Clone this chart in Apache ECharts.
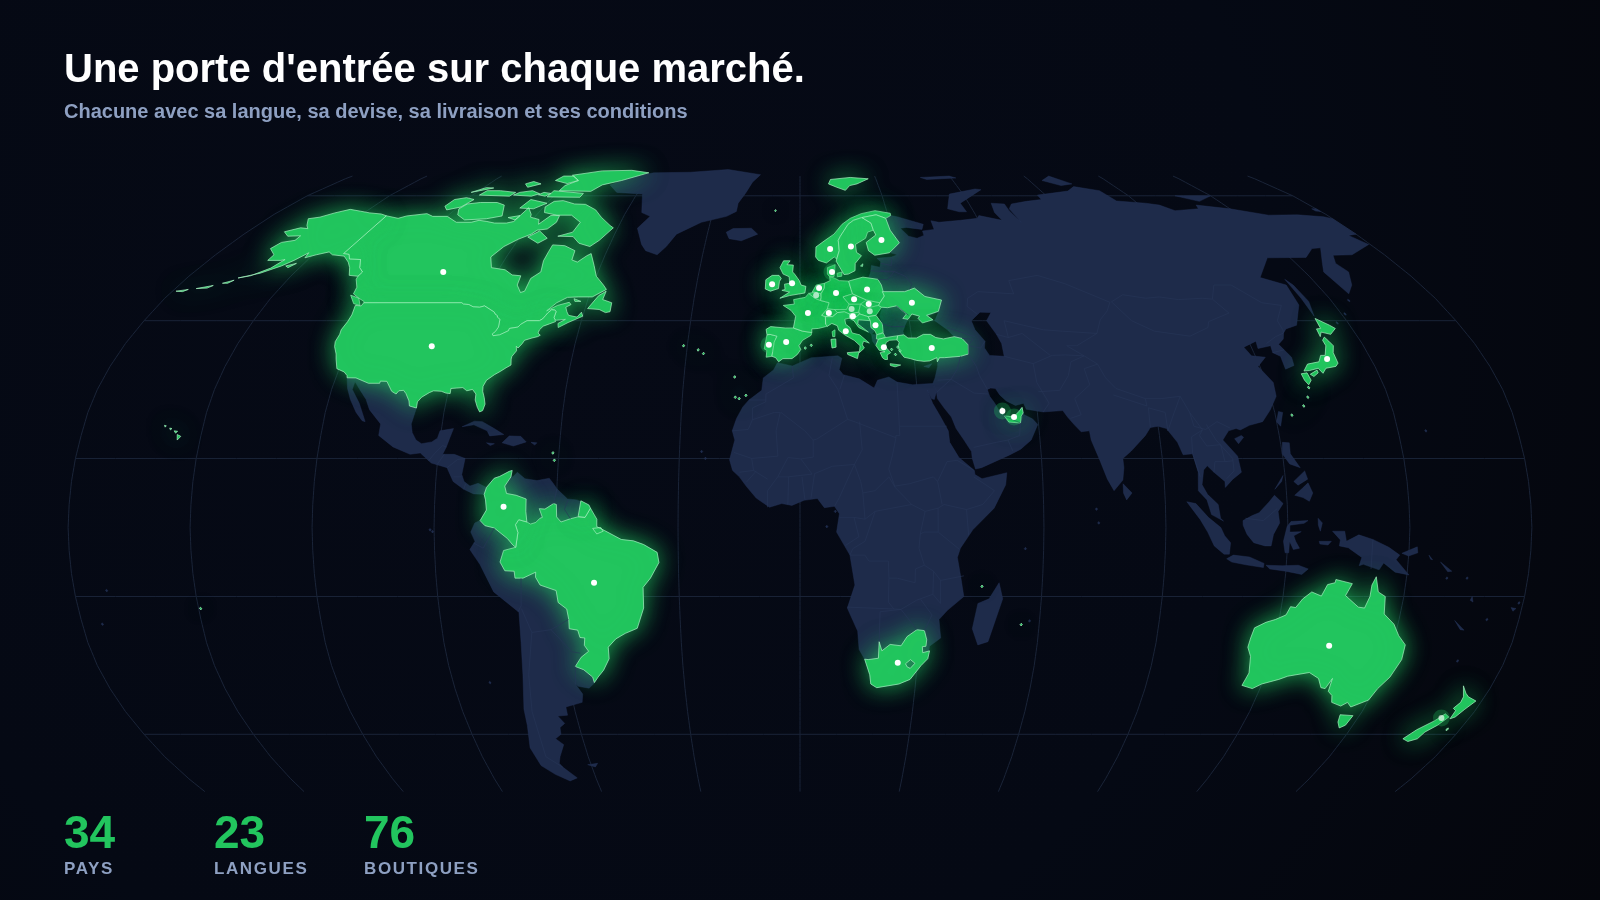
<!DOCTYPE html>
<html>
<head>
<meta charset="utf-8">
<title>Une porte d'entrée sur chaque marché</title>
<style>
  html, body { margin: 0; padding: 0; background: #060a16; }
  #chart-container { width: 1600px; height: 900px; }
</style>
<script src="https://cdn.jsdelivr.net/npm/echarts@6/dist/echarts.min.js"></script>
</head>
<body>
<div id="chart-container"></div>
<script>
// stats under the map
const statValues = ["34", "23", "76"];
const statLabels = ["PAYS", "LANGUES", "BOUTIQUES"];

// markets: name, lon, lat
const markets = [
  ["Canada", -106, 56], ["États-Unis", -98, 39.4], ["Colombie", -73, 4.5], ["Brésil", -51, -12],
  ["Afrique du Sud", 25, -29.4], ["Qatar", 51.2, 25.3], ["Émirats", 54, 24], ["Japon", 138.5, 36.6],
  ["Australie", 134, -25.7], ["Nouvelle-Zélande", 172.5, -41.4], ["Norvège", 9.4, 61.4], ["Suède", 16, 62],
  ["Finlande", 26, 63.6], ["Danemark", 9.5, 56], ["Irlande", -8.1, 53.2], ["Royaume-Uni", -2.3, 53.4],
  ["Pays-Bas", 5.5, 52.3], ["Belgique", 4.6, 50.7], ["Allemagne", 10.3, 51.2], ["Pologne", 19.3, 52],
  ["Tchéquie", 15.3, 49.8], ["France", 2.2, 46.7], ["Suisse", 8, 46.7], ["Autriche", 14.4, 47.6],
  ["Slovaquie", 19.3, 48.7], ["Hongrie", 19.4, 47.1], ["Slovénie", 14.6, 46], ["Italie", 12.4, 42.7],
  ["Serbie", 20.6, 44], ["Grèce", 22.3, 39.2], ["Turquie", 35, 39], ["Ukraine", 31.5, 49],
  ["Portugal", -8.3, 39.7], ["Espagne", -3.7, 40.3]
];
const dimMarkets = ["Belgique", "Autriche", "Hongrie", "Nouvelle-Zélande"];
const haloMarkets = ["Qatar", "Émirats", "Nouvelle-Zélande", "Portugal", "Danemark"];

// outlines, [lon, lat]
const usa = [[-124.7,48.4],[-123,48.3],[-122.8,49],[-95.2,49],[-94.6,48.7],[-93,48.6],[-91.5,48.1],[-89.6,48],[-88.4,48.3],[-84.9,46.9],[-84.5,46.5],[-83.6,46.1],[-83.5,45.8],[-82.5,45.3],[-82.1,43.6],[-82.5,42.6],[-83.1,42.1],[-82.7,41.7],[-81,41.9],[-79,42.8],[-79,43.3],[-76.8,43.6],[-76.3,44.2],[-74.9,45],[-71.5,45],[-70.8,45.4],[-70.3,46.2],[-70,46.7],[-69.2,47.45],[-68.3,47.35],[-67.8,47.07],[-67.8,45.7],[-67.4,45.3],[-67,44.8],[-68.5,44.3],[-70,43.8],[-70.7,43],[-70.8,42.3],[-70,41.8],[-70.6,41.5],[-72,41.2],[-73.8,40.7],[-74.1,40],[-74.9,39],[-75.5,39.4],[-75.1,38.4],[-75.9,37.2],[-75.9,36.6],[-75.5,35.3],[-76.6,34.7],[-77.9,33.9],[-79.2,33.2],[-80.9,32],[-81.4,30.7],[-81.2,29.6],[-80.5,28.2],[-80,26.8],[-80.3,25.4],[-81,25.1],[-81.8,26.1],[-82.7,27.7],[-82.8,29],[-83.9,30],[-85.3,29.7],[-86.5,30.4],[-88,30.3],[-89.5,30.2],[-89.4,29.1],[-90.5,29.2],[-91.8,29.6],[-93.8,29.7],[-94.8,29.3],[-96.5,28.3],[-97.3,27.3],[-97.2,25.96],[-99.1,26.4],[-99.5,27.5],[-100.7,29.1],[-101.5,29.8],[-102.7,29.7],[-103.2,29],[-104.5,29.6],[-106.5,31.75],[-108.2,31.8],[-108.2,31.33],[-111.07,31.33],[-114.8,32.5],[-117.1,32.53],[-117.3,33],[-118.4,33.8],[-120.6,34.5],[-121.9,36.6],[-122.5,37.7],[-123.8,39.3],[-124.3,40.4],[-124.2,42],[-124.5,43],[-124,44.8],[-124,46.3]];
const alaska = [[-141,69.65],[-143.5,70.1],[-148,70.4],[-152,70.85],[-156.6,71.35],[-160,70.4],[-163,69.3],[-166.2,68.9],[-163.5,67.2],[-161.8,66.4],[-164.5,66.6],[-168,65.6],[-165,64.5],[-161,64.6],[-161,63.5],[-164.5,63],[-165.5,61.5],[-162,60],[-162,58.7],[-158,58.7],[-157,58.9],[-158.5,56.9],[-162,55.1],[-165,54.6],[-160,55.7],[-156,57.4],[-154,58.7],[-152,60.5],[-151.5,59.3],[-149,60],[-146,60.7],[-144,60],[-140,59.7],[-137,58.3],[-135,57],[-133,55.2],[-130.2,55],[-130,56],[-132,57],[-134,58.9],[-137.5,59],[-139,60.1],[-141,60.3]];
const aleutians = [[[-168,53.4],[-165.5,54.1],[-166.5,53.4]],[[-174,52.2],[-170,52.9],[-171,52.3]],[[-179,51.6],[-176,52],[-177,51.5]],[[-154.7,57.4],[-152.3,58],[-153.5,57]]];
const hawaii = [[[-156,20.2],[-155,19.8],[-155.7,19]],[[-157,21],[-156.1,20.9],[-156.5,20.5]],[[-158.3,21.6],[-157.7,21.5],[-158,21.2]],[[-159.8,22.2],[-159.3,22.1],[-159.5,21.8]]];
const canada = [[-141,69.65],[-136,69],[-134,69.6],[-128,70.2],[-125,69.5],[-120,69.5],[-115,68],[-110,68],[-108,68.5],[-105,68.2],[-102,67.8],[-98,67.8],[-96,68.2],[-95,71.8],[-92,70],[-91.5,69.3],[-88,68.7],[-87,67.5],[-85,69.7],[-82,69.7],[-81.5,68],[-83,66.3],[-86,66],[-87,65],[-90,63.8],[-93,62],[-94.8,59.5],[-92.5,57],[-88,56.5],[-85,55.3],[-82.3,55.1],[-82,53],[-80,51.3],[-79,51.6],[-79,54.5],[-77,56],[-78,58.6],[-78,60.8],[-78,62.4],[-74,62.2],[-70,61],[-69.5,58.8],[-67.5,58.3],[-65.5,59.8],[-64.5,60.3],[-62,57.5],[-60,55],[-57,53],[-55.7,52],[-59,50.3],[-63,50.3],[-66,50.2],[-68.5,49],[-70.5,47.2],[-68,48.4],[-65,49.1],[-64.3,48.6],[-65.5,48],[-64.8,47],[-64,46.2],[-61.5,45.8],[-60.7,46.9],[-60,46],[-63.5,44.6],[-65.8,43.5],[-66.2,44.4],[-64.5,45.3],[-67,45.1],[-67.4,45.3],[-67.8,45.7],[-67.8,47.07],[-68.3,47.35],[-69.2,47.45],[-70,46.7],[-70.3,46.2],[-70.8,45.4],[-71.5,45],[-74.9,45],[-76.3,44.2],[-76.8,43.6],[-79,43.3],[-79,42.8],[-81,41.9],[-82.7,41.7],[-83.1,42.1],[-82.5,42.6],[-82.1,43.6],[-82.5,45.3],[-83.5,45.8],[-83.6,46.1],[-84.5,46.5],[-84.9,46.9],[-88.4,48.3],[-89.6,48],[-91.5,48.1],[-93,48.6],[-94.6,48.7],[-95.2,49],[-122.8,49],[-123,49.3],[-125,50],[-127.5,51],[-128,52.5],[-130,54.3],[-130.2,55],[-130,56],[-132,57],[-134,58.9],[-137.5,59],[-139,60.1],[-141,60.3]];
const canadaIslands = [
  [[-128,50.7],[-125,50],[-123.4,48.4],[-125.5,48.8]],
  [[-59.3,47.7],[-57.3,50.6],[-55.6,51.6],[-55.8,49.7],[-53,49],[-52.8,47],[-54,46.8],[-56,47.5]],
  [[-61.5,66.6],[-64,63.5],[-66,62],[-70,62.8],[-73,64.4],[-78,64.5],[-74,65.5],[-73.5,68],[-78,69.8],[-83,69.8],[-88,70.5],[-89.5,72],[-88,73.5],[-85,73.7],[-80,72.8],[-76,72.7],[-71,71.2],[-67.5,69.3],[-63,67.2]],
  [[-117,69.9],[-113,68.6],[-106,68.9],[-101.5,69.6],[-104.5,72.5],[-108,73.2],[-114,73.2],[-118,72.8],[-119,71.5]],
  [[-125,72.2],[-122.8,71.2],[-119,72],[-117.5,74],[-121,74.5],[-124.5,74]],
  [[-90,76.5],[-78,76.3],[-76,78.2],[-70,79.5],[-62,82.2],[-70,83.1],[-82,82.9],[-92,81.3],[-87,79.5],[-90,78]],
  [[-92,74.7],[-80,74.6],[-80,75.7],[-92,76.5]],
  [[-96,79.5],[-90,78.6],[-87,79.5],[-91,81],[-95,81]],
  [[-117.5,75.2],[-106,74.9],[-105.5,76],[-112,76.5],[-117,76.5]],
  [[-105,75.2],[-98,74.9],[-96,75.6],[-100,76.5],[-104,76]],
  [[-97,74],[-90,73],[-93,71.5],[-98,71.7]],
  [[-96,75.3],[-93,74.9],[-92,75.7],[-95,76]],
  [[-87.5,64.3],[-85,65.8],[-81,64],[-83,62.8]],
  [[-122,76],[-116,77.3],[-119,77.4]],
  [[-103.5,77.5],[-100,78.5],[-104,79.2],[-106,78.5]],
  [[-99,69.2],[-95.5,69.7],[-96,68.6]],
  [[-64,49.9],[-61.8,49.3],[-63.5,49.3]]
];
const greenland = [[-73,78.2],[-68,76],[-58,75.5],[-54.5,70.5],[-51,69.5],[-53.5,66.5],[-50,62.5],[-48,61],[-44,60],[-42,62],[-40,65],[-33,68],[-25,69.5],[-22,70.8],[-22,73],[-20,76],[-18.5,79],[-16,81.5],[-30,83.4],[-45,82.4],[-60,82.2],[-68,80.5]];
const centralAmerica = [[-117.1,32.53],[-114.8,32.5],[-111.07,31.33],[-108.2,31.33],[-108.2,31.8],[-106.5,31.75],[-104.5,29.6],[-103.2,29],[-102.7,29.7],[-101.5,29.8],[-100.7,29.1],[-99.5,27.5],[-99.1,26.4],[-97.2,25.96],[-97.8,22.5],[-97.2,20.6],[-96,19],[-94.5,18.2],[-92,18.6],[-90.7,19.4],[-90.3,21],[-87,21.5],[-87.6,19.5],[-88.2,17.5],[-88.9,15.9],[-86,15.9],[-83.2,15],[-83.7,11.5],[-83,10],[-81.5,9],[-79.5,9.6],[-77.4,8.7],[-77.9,7.2],[-80.5,7.3],[-83,8.3],[-85.7,10],[-87.5,13],[-91.5,14],[-94.5,16.2],[-97,15.9],[-101.5,17.5],[-105.5,20],[-105.5,22.5],[-109,25.6],[-110.5,27.8],[-112.8,30],[-114.7,31.7],[-114.7,30],[-112,27],[-109.5,23],[-110.3,23.2],[-112.2,25],[-114.5,27.8],[-116,30.2]];
const caribbean = [
  [[-84.9,21.9],[-82,23.1],[-80,23],[-77,21.6],[-74.2,20.2],[-77.7,19.9],[-78.5,21],[-82,22.3]],
  [[-74.4,18.4],[-72.8,19.9],[-69.9,19.8],[-68.4,18.6],[-71.5,17.7]],
  [[-78.3,18.4],[-76.3,18.2],[-77.3,17.8]],
  [[-67.2,18.5],[-65.7,18.4],[-66.2,17.9]]
];
const southAmerica = [[-77.9,7.2],[-77.4,8.7],[-75.6,10.7],[-74.3,11.1],[-72,12.2],[-71.3,12.4],[-71.5,11],[-71,11],[-70,12],[-68,10.6],[-65,10.2],[-62,10.7],[-60.8,9.4],[-60,8.4],[-57.3,6.2],[-55,6],[-52,4.9],[-51.6,4.2],[-50,1.8],[-50,0.2],[-48,-0.7],[-44,-2.6],[-41,-2.9],[-38.5,-3.7],[-35.2,-5.4],[-34.8,-7.6],[-37,-11],[-38.9,-13],[-39,-17.5],[-40.9,-21.9],[-44,-23],[-46.5,-24.2],[-48.6,-26],[-48.7,-28.5],[-50.5,-31],[-52.2,-32.5],[-53.4,-33.8],[-55,-34.9],[-57.8,-34.5],[-58.4,-34],[-57,-36.2],[-57.6,-38],[-62.2,-39],[-62.3,-40.8],[-65,-41],[-63.7,-42.6],[-65.3,-43.5],[-65.6,-45],[-67.5,-46],[-65.8,-47.3],[-68,-50],[-69,-51.5],[-68.4,-52.4],[-65.5,-54.8],[-68,-55.5],[-71.5,-54],[-74.5,-52],[-75.5,-48],[-74,-43],[-73.5,-39.5],[-71.5,-32],[-70.5,-25],[-70.2,-18.4],[-76,-14],[-79,-8],[-81.3,-4.8],[-80,-3],[-81,-1],[-80,1],[-78.7,1.5],[-77.2,3.8],[-77.5,6]];
const brazil = [[-51.6,4.2],[-50,1.8],[-50,0.2],[-48,-0.7],[-44,-2.6],[-41,-2.9],[-38.5,-3.7],[-35.2,-5.4],[-34.8,-7.6],[-37,-11],[-38.9,-13],[-39,-17.5],[-40.9,-21.9],[-44,-23],[-46.5,-24.2],[-48.6,-26],[-48.7,-28.5],[-50.5,-31],[-52.2,-32.5],[-53.4,-33.7],[-53.6,-32.5],[-55.6,-30.9],[-57.6,-30.2],[-55.8,-28.2],[-53.7,-26.9],[-54.6,-25.6],[-54.3,-24],[-55.5,-23.9],[-55.9,-22.3],[-58,-22],[-57.9,-20],[-58.2,-17.7],[-60.2,-16.3],[-60.5,-13.7],[-64.4,-12.5],[-65.4,-10.8],[-65.3,-9.7],[-68.5,-11],[-70.5,-11],[-70.6,-9.5],[-72.9,-9.4],[-74,-7.5],[-73,-5],[-70,-4.3],[-69.4,-1.1],[-70,0.6],[-69.2,1.7],[-67.2,1.2],[-66.3,0.75],[-65,1.1],[-64,2],[-63.4,2.2],[-64.2,4.1],[-62.8,4],[-60.7,5.2],[-60,5],[-59.9,2.3],[-58.8,1.2],[-56.5,1.9],[-54.7,2.3],[-52.9,2.2]];
const marajo = [[-51,-0.2],[-49,0],[-48.4,-0.8],[-50,-1.4]];
const colombia = [[-77.9,7.2],[-77.4,8.7],[-75.6,10.7],[-74.3,11.1],[-72,12.2],[-71.3,12.4],[-71.5,11],[-72.9,9],[-72.4,7.4],[-70,7],[-67.5,6.2],[-67.5,3.5],[-67.2,1.2],[-69.2,1.7],[-70,0.6],[-69.4,-1.1],[-70,-4.3],[-70.7,-3.8],[-72,-2.4],[-75.2,-0.1],[-77.5,0.4],[-78.7,1.5],[-77.2,3.8],[-77.5,6]];
const frenchGuiana = [[-54.6,2.4],[-54,5.8],[-52,4.9],[-51.6,4.2],[-52.9,2.2]];
const falklands = [[-61,-51.8],[-58,-51.5],[-59,-52.3]];
const africa = [[-5.9,35.8],[-2,35.1],[3,36.9],[10,37.3],[11,36.8],[10.2,34.3],[11.2,33.2],[15.3,32.3],[19,30.3],[20,32],[23,32.7],[25,31.6],[29,31],[32,31.2],[34.2,31.3],[34.9,29.5],[34.2,27.8],[33.5,28],[32.6,29.9],[33.7,27],[35.5,24],[37.2,21],[37.4,18.5],[39.5,15.2],[43.2,12.4],[43.3,11.5],[45,10.6],[51.2,11.9],[50.8,9.3],[47.8,4.2],[42.5,-0.5],[39.5,-4.5],[38.8,-6.5],[39.7,-10.5],[40.7,-15],[36.8,-18],[34.8,-20],[35.5,-24],[32.8,-25.8],[32.6,-28.5],[31,-30],[28.5,-33],[25.7,-34],[20,-34.8],[18.4,-34],[18,-32],[16.5,-28.6],[15,-26.5],[14.5,-22.5],[11.8,-17.5],[13.6,-12.5],[12.3,-6],[9,-1],[9.7,3],[8.5,4.6],[6,4.3],[4.3,6.3],[1,5.9],[-2,4.8],[-4.5,5.2],[-7.5,4.4],[-10.8,6.4],[-13.3,9],[-15,11],[-16.7,12.4],[-17.5,14.7],[-16.3,19],[-17,21],[-16,23.7],[-14.5,26.2],[-13,27.7],[-9.8,29.8],[-9.5,32.5],[-6.9,34.2]];
const madagascar = [[49.3,-12],[50.4,-15.5],[47.5,-24.8],[45,-25.5],[43.3,-22],[44.3,-16.5],[47,-15.5]];
const southAfrica = [[16.5,-28.6],[17.4,-28.7],[20,-28.4],[20,-24.8],[20.8,-26.8],[22.8,-25.4],[25.6,-25.7],[27,-23.7],[29.4,-22.2],[31.3,-22.4],[32,-24.4],[31.9,-25.8],[31,-25.9],[31.2,-27.2],[32.9,-26.8],[32.6,-28.5],[31,-30],[28.5,-33],[25.7,-34],[20,-34.8],[18.4,-34],[18,-32]];
const lesotho = [[27,-29.6],[28.2,-28.7],[29.4,-29.5],[28.3,-30.6],[27.5,-30.3]];
const eurasia = [[30.9,69.7],[33,69.4],[41,67.5],[40,66.2],[35,66.7],[33,66.5],[35,64.5],[37.5,64],[40,64.7],[40,65.8],[44,66.2],[44,68.4],[46.5,68],[54,68.5],[60,69],[61,69.7],[68,68.5],[67,70.5],[68,73],[72.5,72.8],[72.5,71],[74,68],[73,71.5],[75,72.8],[81,73.5],[87,74],[87,75.2],[100,76.4],[104.3,77.7],[112,76.5],[113.5,73.6],[123,73],[127,72.5],[130,71],[139,71.5],[140,72.5],[150,71.5],[160,69.8],[170,69.9],[178,69.4],[180,68.9],[180,65],[177,64.7],[179.5,62.5],[170,60],[164,59.9],[162,58],[163,56],[160,53],[156.7,51],[155.6,56],[158,58],[163,61.7],[160,61.5],[155,59.4],[143,59.3],[135.2,54.7],[141,53],[140,48.5],[135.5,44],[132,43.2],[130.7,42.3],[129.7,41],[127.6,39.8],[129.4,37],[129,35.2],[126.4,34.4],[126.6,37.2],[125,38],[125.3,39.5],[121.6,38.9],[122,40.5],[118,39.2],[119,37.3],[122.5,37],[119.5,35],[121.9,31.5],[121.5,28.5],[119,25.5],[116.5,23],[113,22.2],[110.5,21.2],[109.5,21.5],[107.5,21],[105.7,19],[108.8,15.5],[109.3,12],[107,10.5],[105,8.7],[105,10],[102.5,12],[101,13.4],[100,12.5],[99.3,9.3],[100.5,7.2],[103,5],[103.5,2],[104.2,1.4],[101.3,2.8],[100.3,6],[98.3,8],[98.6,12],[97.7,16],[95.3,15.8],[94.3,18.5],[92,21.5],[90,22],[88,21.7],[86.5,20],[82.5,16.6],[80.2,15],[80.3,13],[79.8,10.3],[77.5,8],[76,10.5],[74.5,14.5],[72.8,19],[72.6,21],[70.5,20.8],[69,22.3],[67.5,24],[66.5,25.4],[61.5,25.1],[57.3,25.7],[56.8,27],[54.7,26.5],[52.5,27.5],[51,28.8],[50.1,30.2],[48.9,30.3],[48,30],[48.4,28.5],[49.5,27],[50.2,25.7],[50.8,24.8],[51.6,25],[51.5,24.3],[54,24.1],[56,26],[56.4,25],[56.6,24.5],[58.6,23.6],[59.8,22.4],[57.8,19],[55,17],[52,15.7],[45,13],[43.5,12.7],[42.8,15],[42.7,16.5],[41,19],[39.2,21.5],[38.2,24],[36.5,26],[35,28],[34.9,29.5],[34.2,31.3],[34.9,32.5],[35.9,35],[36.2,36.7],[37,38],[39,39.5],[41.5,41.5],[40,43],[37,45],[38.5,47],[35,46],[36.5,45.2],[33,46],[31,46.5],[30,45.8],[28.7,44],[27.9,42.7],[28,41.9],[27,41.5],[24.5,41.4],[22.5,41.6],[21,42.5],[22.5,44.3],[22,46],[23,48],[24,50.5],[23.6,53],[22.8,54.3],[20,54.4],[21,56],[21.5,57.5],[24,57.1],[24.5,58.4],[23.5,59.2],[28,59.5],[30,60],[28,60.5],[30,62],[31.5,62.9],[29.5,66],[29,69]];
const caspian = [[47,45],[50,46.9],[53,46.8],[51.2,45],[53,42],[53.8,40],[53.8,37.2],[50,37.4],[49,39],[49.5,40.5],[47.5,43]];
const albania = [[19.3,42],[20.7,41.9],[20.5,41],[21,40.7],[20,39.7],[19.4,40.5]];
const bosnia = [[16,45.2],[19.3,45],[19.3,43.5],[18.5,42.5],[15.8,44.3]];
const montenegro = [[18.5,42.5],[19.3,43.5],[20.3,42.8],[19.3,42]];
const asiaIslands = [
  [[-24,65.5],[-22,66.4],[-16,66.5],[-13.7,65],[-18.7,63.4],[-22.7,63.9]],
  [[79.8,9.5],[81.9,7.5],[80.5,6],[79.8,7.5]],
  [[142,54.3],[143,53],[143.5,49.3],[142,46],[142,50]],
  [[51.5,71.5],[55,70.7],[57.5,70.7],[57,73],[68,76.8],[66,77],[55,75.5]],
  [[95,79.5],[100,78],[105,78.5],[100,81]],
  [[137,75],[150,75],[143,73.5]],
  [[178.5,71.5],[180,71.5],[180,70.8],[178.5,70.9]],
  [[48,80.5],[60,81],[62,80.3],[50,79.8]],
  [[32.3,35],[34.5,35.6],[33.6,34.7]],
  [[108.7,19.3],[110.5,20],[111,19.6],[109.5,18.2]],
  [[121,25.2],[122,25],[120.8,22],[120,23]],
  [[120.5,18.5],[122.2,18.4],[122,16],[124,13],[121.5,13.8],[120,16]],
  [[122,7],[124,8.5],[125.5,9.7],[126.5,7.5],[125.5,5.7],[124,6.5]],
  [[122,10],[125,12.3],[125.5,10.5],[123,9.2]],
  [[117.2,8.3],[119.5,11.3],[119,10]],
  [[109,1.5],[111.3,2.6],[113,3.2],[115.5,5.5],[117,7],[119,5.2],[117.7,3.5],[118,1],[116.5,-1.5],[116,-4],[114.5,-4],[111.7,-3.3],[110,-1.5],[109,0.5]],
  [[95.3,5.6],[97.5,5.2],[100.5,2.2],[103.5,0],[104.5,-1.8],[106,-3.3],[105.8,-5.8],[104.5,-5.8],[102,-4],[100.3,-1],[98.5,1.7]],
  [[105.2,-6.8],[106.8,-6],[110.8,-6.4],[114.5,-7.8],[114.4,-8.7],[110,-8.1],[106.5,-7.5]],
  [[115,-8.2],[119,-8.3],[123,-8.2],[125.5,-9],[124,-10.2],[120,-9.5],[116,-9]],
  [[119.5,-5.5],[120.4,-5.5],[120.5,-3],[121.5,-4.8],[123,-4.5],[122,-3],[121.5,-1.8],[123.3,-0.9],[120.5,-1],[120.5,0.5],[124,0.9],[125,1.5],[120.8,1.3],[119.8,0.2],[119,-3]],
  [[131,-0.8],[134,-0.8],[134.5,-3],[137.5,-1.6],[141,-2.6],[145,-4.3],[147.8,-6],[147,-7],[150.5,-10.3],[147,-9.7],[144,-7.7],[143,-9.2],[139,-8],[138,-8.3],[138.5,-6.5],[135,-4.4],[132.8,-4],[133,-2.7]],
  [[127.5,2],[128.5,1],[128,-0.8],[127.5,0.5]],
  [[127.8,-3],[130.8,-3],[130,-3.8],[128,-3.6]],
  [[148.3,-5.6],[152,-4.2],[152.2,-5.5],[150,-6.2]],
  [[155,-6],[156,-7],[155.5,-6.9]],[[158,-7.5],[161,-9.5],[160,-9.6]],
  [[164,-20.2],[167,-22.3],[166,-22.2]],
  [[167,-15],[167.5,-16.2],[166.7,-15.8]],[[177.3,-17.4],[178.6,-17.6],[178,-18.2]]
];
const australia = [[114.2,-21.8],[116.8,-20.6],[119,-20],[121.5,-19],[122.3,-17.2],[123.6,-17.4],[125,-15.5],[127,-14],[129.5,-14.9],[130.7,-12.4],[132.5,-12],[132.6,-11.3],[136.8,-12.2],[135.5,-14.8],[139.2,-17.3],[140.8,-17.5],[141.6,-15],[141.7,-12.5],[142.5,-10.7],[143.5,-14],[145.4,-15],[146,-18.8],[149,-21],[150.9,-23.5],[153.2,-25.5],[153.6,-28.7],[152.5,-32.5],[150.7,-35],[150,-37.5],[146.3,-39],[144.8,-38],[143.5,-38.8],[140.6,-38],[139.7,-36.5],[138.2,-35.6],[137.8,-32.8],[137,-35],[135.8,-34.8],[134.2,-32.8],[131.2,-31.5],[126,-32.3],[124,-33],[120,-34],[118,-35],[115,-34.3],[115.7,-31.6],[114.8,-28],[113.5,-26],[113.7,-24]];
const tasmania = [[144.7,-40.7],[148.3,-40.9],[148,-43],[146.8,-43.6],[145.4,-42.3]];
const newZealand = [
  [[172.7,-34.4],[174.5,-36],[175.8,-36.8],[178.5,-37.7],[177,-39.5],[176,-41.2],[175,-41.6],[174.8,-39.8],[173.8,-39.3],[174.7,-38],[174.5,-36.8]],
  [[172.7,-40.5],[174.3,-41.2],[173,-43],[171,-44.5],[170.5,-46],[168.5,-46.6],[166.5,-46],[168.3,-44],[171.3,-42]]
];
const japan = [
  [[141,41.4],[141.5,40.5],[142,39.5],[141,38],[140.8,35.7],[139.8,35],[137,34.6],[135.7,33.5],[135,34.6],[132.5,34.1],[131,34],[132.7,35.5],[136,36],[137.3,37.4],[138.5,37.4],[140,39.5],[140,40.7]],
  [[140,41.5],[141,42.5],[143.2,42],[145.5,43.3],[144.5,44],[141.8,45.5],[141.5,43.3],[140.3,43.2]],
  [[132.3,33.3],[134.5,34.2],[134.5,33.6],[133,32.8]],
  [[130,33.4],[131.6,33.6],[131.9,32],[130.8,31],[130.2,32]]
];
const uae = [[51.6,24.2],[54,24.1],[55.5,25.3],[56.3,26.1],[56.4,24.9],[55.8,24.2],[55.5,22.7],[52.6,22.9]];
const qatar = [[50.8,24.8],[51.2,26.1],[51.6,25.2],[51.2,24.6]];
const portugal = [[-8.9,41.9],[-8.1,42],[-6.2,41.6],[-6.9,40.3],[-7,39.6],[-7.4,37.2],[-8.9,37],[-8.8,38.5],[-9.5,38.8]];
const spain = [[-8.9,41.9],[-9.2,43.1],[-8,43.7],[-4,43.4],[-1.8,43.4],[0.7,42.7],[3.2,42.4],[3,41.8],[0.7,40.7],[-0.3,39.5],[0.2,38.7],[-0.7,37.6],[-2.1,36.7],[-4.5,36.7],[-5.6,36],[-6.4,36.9],[-7.4,37.2],[-7,39.6],[-6.9,40.3],[-6.2,41.6],[-8.1,42]];
const france = [[-1.8,43.4],[-1.2,46],[-2.5,47.3],[-4.7,48.4],[-1.6,48.7],[-1.8,49.7],[1.5,50.2],[2.5,51.1],[4.2,50],[5.8,49.5],[8.2,49],[7.6,47.6],[6,46.2],[7,45.9],[7,44.2],[7.5,43.8],[5,43.3],[3.2,43.2],[3.2,42.4],[0.7,42.7]];
const corsica = [[8.7,42.6],[9.5,43],[9.4,41.5],[8.8,41.5]];
const belgium = [[2.5,51.1],[4.2,51.4],[5.8,51.2],[6,50.2],[5.8,49.5],[4.2,50]];
const netherlands = [[3.5,51.4],[4.7,53],[7.1,53.4],[7,52.3],[6,51],[5.8,51.2],[4.2,51.4]];
const germany = [[7.1,53.4],[8.8,54],[8.7,54.9],[10,54.6],[11.5,54],[14.2,53.9],[14.7,52],[15,51],[12.2,50.3],[13.8,48.7],[13,47.5],[10,47.4],[7.6,47.6],[8.2,49],[5.8,49.5],[6,50.2],[6,51],[7,52.3]];
const denmark = [[[8.1,55.5],[8.2,57],[10.6,57.7],[10.3,56],[10,54.9],[8.7,54.9]],[[11,55.7],[12.5,56],[12.3,55],[11,54.9]]];
const switzerland = [[6,46.2],[7.6,47.6],[9.6,47.5],[10.4,46.8],[9,45.9],[7,45.9]];
const austria = [[9.6,47.5],[13,47.5],[13.8,48.7],[17,48.7],[16.3,46.9],[13.7,46.5],[10.4,46.8]];
const czechia = [[12.2,50.3],[15,51],[18.8,49.6],[17,48.7],[13.8,48.7]];
const slovakia = [[17,48.7],[18.8,49.6],[22.5,49],[22,48.4],[18.7,47.8]];
const hungary = [[16.3,46.9],[17,48.7],[18.7,47.8],[22,48.4],[22.8,48],[21,46.2],[18.8,45.9],[16.5,46.5]];
const poland = [[14.2,53.9],[18.5,54.8],[22.8,54.3],[23.6,53],[24,50.5],[22.5,49],[18.8,49.6],[15,51],[14.7,52]];
const ukraine = [[23.6,51.5],[30,51.5],[33,52.3],[35.5,50.4],[40,49.6],[38.5,47.1],[35,46.2],[36.5,45.2],[33.5,44.5],[32.5,45.5],[33,46],[31,46.5],[29.7,45.3],[28.3,45.5],[29.5,46.5],[27,48.3],[24.5,47.9],[22.8,48],[22,48.4],[22.5,49],[24,50.5]];
const italy = [[7,45.9],[9,45.9],[10.4,46.8],[12.3,47],[13.7,46.5],[13.7,45.6],[12.3,45.3],[12.5,44.2],[13.6,43.5],[14.1,42.3],[16.1,41.9],[18.5,40.1],[17,40.5],[16.6,39.7],[17.1,39],[15.7,38],[16,39.5],[14.5,40.7],[12.2,41.8],[10.5,42.9],[10.2,43.9],[8.7,44.4],[7.5,43.8],[7,44.2]];
const sicily = [[12.5,38],[15.6,38.2],[15.1,36.7],[12.6,37.6]];
const sardinia = [[8.3,40.9],[9.6,41],[9.6,39.2],[8.5,39]];
const slovenia = [[13.7,46.5],[16.3,46.9],[16.5,46.5],[15.7,45.9],[13.7,45.5]];
const croatia = [[13.7,45.5],[15.7,45.9],[16.5,46.5],[18.8,45.9],[19.3,45],[16,45.2],[15.8,44.3],[18.5,42.5],[16,43.5],[14.8,45]];
const serbia = [[18.8,45.9],[21,46.2],[22.5,44.3],[22.5,42.4],[20.7,41.9],[20.3,42.8],[19.3,43.5],[19.3,45]];
const macedonia = [[20.5,41],[20.7,41.9],[22.5,42.3],[23,41.3],[21,40.9]];
const greece = [[20.2,39.6],[21,40.9],[23,41.3],[26.3,41.7],[26,40.8],[24,40.7],[23,40.2],[22.7,39.3],[24,38],[23,37.5],[23,36.5],[22.3,36.5],[21.7,36.9],[21.2,38],[22.5,38.2],[21,38.5]];
const crete = [[23.6,35.6],[26.3,35.3],[24.8,34.9],[23.6,35.2]];
const turkey = [[26.3,41.7],[28,41.9],[29,41.2],[31.3,41.2],[33.3,42],[35.2,42],[36.5,41.3],[38.5,41],[41.5,41.5],[43.5,41.1],[44.8,39.7],[44.5,37.7],[42.3,37.2],[38,36.9],[36.7,36.9],[36,36],[36,36.9],[34,36.2],[32.5,36.1],[30.6,36.3],[29,36.7],[27.4,37],[26.3,38.3],[26.2,39.5],[26.5,40.3],[26,40.7]];
const britain = [[-5.7,50],[-3,50.6],[1.4,51.2],[1.7,52.7],[0.3,53],[-0.2,54],[-1.6,55.5],[-2.2,56],[-2,57.6],[-3.9,57.7],[-3,58.6],[-5,58.6],[-6,57],[-5,55.5],[-3.2,54.9],[-3,53.4],[-4.5,53.2],[-4.3,52],[-5.2,51.8],[-3,51.4]];
const ireland = [[-6.2,52.2],[-6,53.8],[-5.5,54.5],[-6.2,55.2],[-8.2,55.2],[-10,54.2],[-10,52.1],[-8.5,51.6]];
const norway = [[4.8,59.5],[5,61.9],[8,63.5],[11,65],[14,67.5],[17,69],[21,70.2],[26,71],[31,70.3],[30.9,69.7],[29,69],[26,69.9],[21,69.2],[18,68.5],[16,67.5],[14.5,66],[13,64.5],[12.2,63.5],[12.2,61],[11.2,59],[10.5,59.5],[8,58.1],[5.6,58.7]];
const svalbard = [[11,78.5],[14,77.5],[17,76.6],[19,78],[22,78.5],[27,80],[20,80.5],[12,79.8]];
const sweden = [[11.2,59],[12.2,61],[12.2,63.5],[13,64.5],[14.5,66],[16,67.5],[18,68.5],[21,69.2],[23.7,67.8],[24,66],[22,65.5],[21,64],[17.5,62.5],[17.5,60.6],[18.9,59.8],[16.7,58],[16.4,56.3],[14.3,55.5],[13,55.4],[11,58.5]];
const gotland = [[18.2,57.4],[19,57.9],[18.8,57.3]];
const finland = [[21,69.2],[26,69.9],[29,69],[29.5,66],[31.5,62.9],[27.7,60.5],[23,59.9],[21.3,61],[21,63],[24.5,64.8],[24,66],[23.7,67.8]];

// tiny islands, centre lon / lat
const greenIsles = [[-27,38.6],[-25.5,37.8],[-31,39.5],[-16.9,32.7],[-16.5,28.3],[-15.5,28],[-13.8,28.7],[3,39.6],[1.4,39],[-61.5,16.2],[-61,14.6],[55.5,-21.1],[45.1,-12.8],[-149.5,-17.6],[127.8,26.4],[129.5,28.3],[130.5,30.4],[124.2,24.4],[25.2,37.6],[26.5,38.4],[24.3,38.7],[26,39.2],[-8.5,71],[176.5,-43.9]];
const darkIsles = [[57.5,-20.3],[-73.5,-0.5],[-91,-0.5],[-90.4,-0.9],[168,-29],[73,4],[73.5,1],[55.5,-4.6],[-23.5,15],[-24.5,16.5],[6.6,0.2],[8.7,3.5],[-80.5,-33.7],[157,21],[147,44.5],[151,46.5],[155,49.5],[172,-20],[165,-11],[179,-16.4],[160,-11],[-172,-13.7],[-175,-21]];

// country lines inside the dark land
const borders = [
  [[-2,35.1],[-1.7,32.5],[-8.7,29],[-8.7,27.3],[-12,26],[-12,23.4],[-13,21.3],[-17,21]],
  [[-13,27.7],[-8.7,27.7]],
  [[-12,23.4],[-6.5,25],[-5,25],[-6,21],[-5.5,15.5],[-12,15],[-16.4,16.3]],
  [[-4.8,25],[1.2,21],[3.3,19],[4.2,19.2],[12,23.5],[9.7,30],[7.5,33],[8.5,36.9]],
  [[10.2,30],[11.5,33.1]],
  [[12,23.5],[14,22.9],[24,19.5],[24,20],[25,20],[25,31.6]],
  [[25,22],[36.9,22]],
  [[24,19.5],[23,15.7],[22,12.7],[23.5,8.7]],
  [[15,23],[15.5,16.9],[13.5,13.7]],
  [[3.6,11.7],[8,13.3],[13.5,13.7]],
  [[3.3,19],[3.3,15.3],[0.2,14.9],[-3,15.2],[-5.5,11],[-3,11],[3,11.6],[0.2,14.9]],
  [[8.5,4.6],[9.7,6.5],[13.5,13.7]],
  [[2.7,6.3],[3.6,11.7]],[[1.2,6.1],[0.5,11]],[[-3,5],[-2.8,11]],
  [[-8,4.4],[-8,8],[-5.5,11]],
  [[-13.2,9.9],[-10.8,12.3]],[[-15,12],[-11.5,12.4],[-8,10.5]],[[-12,15],[-11.5,12.4]],
  [[13.5,13.7],[15,10],[15.5,7.5],[18.5,8],[22,11],[23.5,8.7],[27.5,5],[30.8,3.5],[34,4.2],[35.5,5],[41,3.9]],
  [[23.5,9],[27,9.5],[33,11],[34,10],[35,5]],
  [[36.5,14.3],[34,10]],[[36.5,14.3],[39,14.6],[43,12.5]],
  [[43,11],[48,8],[45,5],[41,3.9],[41.5,-1.7]],
  [[39.2,-4.7],[34,-1]],
  [[34,4.2],[34,-1],[30.5,-1],[29.6,-1.4],[30.8,3.5]],
  [[12.3,-6],[13,-4.6],[16,-3],[18.5,3.5],[22,4.1],[27.5,5]],
  [[29.6,-1.4],[29.3,-4.5],[30.7,-8.2],[28.5,-9],[28.5,-12],[24,-11],[22,-11],[21.8,-7.3],[17,-7.3],[16,-6],[12.3,-6]],
  [[30.7,-8.2],[33,-9.5],[34.8,-11.5],[40.5,-10.5]],
  [[11.8,-17.3],[23.4,-17.7],[25.2,-17.8]],
  [[22,-11],[22,-16.2],[23.4,-17.7]],
  [[25.2,-17.8],[29,-15.8],[33,-14.5],[33,-9.5]],
  [[34.8,-11.5],[35,-16.5],[33,-14.5]],
  [[30,-15.6],[33,-19],[31.3,-22.4]],
  [[20,-18.3],[25.2,-17.8],[29.4,-22.2]],[[20,-18.3],[20,-24.8]],
  [[9.7,2.2],[13.3,2.2],[16,1.8],[18.5,3.5]],[[11.2,-3.9],[14.5,-2],[13.3,2.2]],[[15.5,7.5],[16,1.8]],
  [[87.8,49.2],[92,50.8],[98,50],[102,50.3],[107,49.7],[114,50],[116.7,49.8],[119,46.7],[112,44.8],[111,43.5],[105,41.6],[96,42.7],[91,45],[87.8,49.2]],
  [[116.7,49.8],[120,53],[125,53],[130,49],[135,48.4],[131,45],[131,43],[130.7,42.3]],
  [[47.5,50],[51,51.5],[61,51],[61,54],[70,55.2],[77,53.3],[87.3,49.1]],
  [[47.5,50],[46.8,48.2],[49,46.5]],
  [[53,42],[56,41.3],[56,45],[61,44],[66,43],[71,42.7],[80.2,42.2],[82.5,45.2],[85.5,47.2],[87.3,49.1]],
  [[53.8,37.2],[61,35.6],[66.5,37.4],[70,37.5],[74.9,37.3],[71,39.5],[73.7,39.5],[80.2,42.2]],
  [[56,41.3],[60,42.2],[66,37.4]],
  [[44.8,39.7],[44.5,37.7],[46,35],[46.5,33],[48,30]],
  [[61,35.6],[61,31.5],[63.3,27],[61.5,25.1]],
  [[61,29.5],[66.5,29.8],[69.5,33],[71,36],[74.9,37.3]],
  [[68.2,23.7],[71,24.5],[70,28],[74.5,31],[74,34.5],[77.8,35.5]],
  [[74.9,37.3],[77.8,35.5],[79,32.5],[81,30.2],[88,28],[92,28],[97,28.5],[98.5,25],[99,22],[101.8,21.3],[105,23],[108,21.6]],
  [[80,28.8],[88,26.4],[88,28]],
  [[88,21.7],[88.3,26],[92.3,25],[92.3,21]],
  [[92.3,21],[94,24],[97,28.5]],
  [[98.5,25],[101,21.2],[98,19.7],[97.7,16],[99,11]],
  [[101,21.2],[100,20],[101.5,17.7],[105,18],[105.5,14.3]],
  [[102.2,22.4],[104,19],[107.5,15],[107.5,12.3],[105.5,10.6]],
  [[102.5,12],[103,14.3],[105.5,14.3],[107.5,14.5]],
  [[125,38],[128.3,38.6]],[[124.5,40],[128,41.5],[130.7,42.3]],
  [[35,29.4],[39,32.2],[44.5,29.2],[48,29]],
  [[51.6,24.2],[55.5,22.7],[55,20],[52,19],[49,18.5],[43.3,17.4]],
  [[52,19],[53,16.6]],
  [[42.3,37.2],[41,34.5],[39,32.2]],
  [[35.5,32],[39,32.2]],
  [[109.6,2],[114,1.5],[117.5,4.1]],
  [[141,-2.6],[141,-9]],
  [[-80.3,-3.4],[-78,-4.5],[-75.2,-0.1]],
  [[-69,-11],[-69.5,-17],[-70.4,-18.3]],
  [[-69.5,-17.6],[-67.5,-22.8],[-70,-32],[-71.5,-40],[-72,-50],[-68.4,-52.4]],
  [[-67.5,-22.8],[-62.6,-22.2],[-58,-20]],
  [[-62.6,-22.2],[-58,-27],[-55.9,-27.3]],
  [[-58.4,-34],[-57.6,-30.2]],
  [[-60,8.4],[-60.7,5.2]],
  [[-57.2,5.9],[-58,4],[-56.5,1.9]],
  [[-92.2,14.5],[-91,16],[-89.2,17.8],[-88.2,17.5]],
  [[-90,13.7],[-88.5,15.9]],
  [[-87.5,13],[-85,14.8],[-83.2,15]],
  [[-85.7,11],[-83.7,11]],[[-83,8.3],[-82.6,9.5]],
  [[27.5,57.5],[28,59.4]],
  [[21,56.3],[26.5,56]],
  [[24,56.3],[28,56.1],[31,55],[32.5,53.2],[31.5,52]],
  [[22.8,54.3],[25.7,54.2],[28,56.1]],
  [[24.5,58],[27.5,57.5]],
  [[22.5,44.3],[25,43.7],[28.5,43.7]],
  [[27,48.3],[30,46.2]],
  [[40,43.5],[47,41.5]],
  [[43.5,41.1],[46.5,41],[45,39.7]],
  [[49.5,40.5],[48,39],[45,39.5]]
];

// meridians and parallels
const gridLons = [-180, -150, -120, -90, -60, -30, 0, 30, 60, 90, 120, 150, 180];
const gridLats = [-45, -15, 15, 45, 75];

// country name -> rings
const darkLand = [
  ["Groenland", [greenland]], ["Amérique centrale", [centralAmerica].concat(caribbean)],
  ["Amérique du Sud", [southAmerica, falklands]], ["Afrique", [africa, madagascar]],
  ["Balkans", [albania, bosnia, montenegro]], ["Îles", asiaIslands]
];
const greenLand = [
  ["États-Unis", [usa, alaska].concat(aleutians, hawaii)], ["Canada", [canada].concat(canadaIslands)],
  ["Brésil", [brazil, marajo]], ["Colombie", [colombia]], ["Guyane", [frenchGuiana]],
  ["Australie", [australia, tasmania]], ["Nouvelle-Zélande", newZealand], ["Japon", japan],
  ["Émirats", [uae]], ["Qatar", [qatar]], ["Portugal", [portugal]], ["Espagne", [spain]],
  ["France", [france, corsica]], ["Belgique", [belgium]], ["Pays-Bas", [netherlands]],
  ["Allemagne", [germany]], ["Danemark", denmark], ["Suisse", [switzerland]], ["Autriche", [austria]],
  ["Tchéquie", [czechia]], ["Slovaquie", [slovakia]], ["Hongrie", [hungary]], ["Pologne", [poland]],
  ["Ukraine", [ukraine]], ["Italie", [italy, sicily, sardinia]], ["Slovénie", [slovenia]],
  ["Croatie", [croatia]], ["Serbie", [serbia]], ["Macédoine", [macedonia]], ["Grèce", [greece, crete]],
  ["Turquie", [turkey]], ["Royaume-Uni", [britain]], ["Irlande", [ireland]], ["Norvège", [norway, svalbard]],
  ["Suède", [sweden, gotland]], ["Finlande", [finland]]
];

// Robinson table, every 5 degrees
const robinsonLen = [1, .9986, .9954, .99, .9822, .973, .96, .9427, .9216, .8962, .8679, .835, .7986, .7597, .7186, .6732, .6213, .5722, .5322];
const robinsonLat = [0, .062, .124, .186, .248, .31, .372, .434, .4958, .5571, .6176, .6769, .7346, .7903, .8435, .8936, .9394, .9761, 1];
const mapX = 800, mapY = 527.5, mapR = 274.5;

function lerpTable(table, lat) {
  const a = Math.min(Math.abs(lat), 90) / 5;
  const i = Math.min(Math.floor(a), 17);
  return table[i] + (table[i + 1] - table[i]) * (a - i);
}
function robinson(p) {
  const sign = p[1] < 0 ? -1 : 1;
  return [
    mapX + 0.8487 * mapR * lerpTable(robinsonLen, p[1]) * p[0] * Math.PI / 180,
    mapY - 1.3523 * mapR * lerpTable(robinsonLat, p[1]) * sign
  ];
}
function robinsonInverse(pt) {
  const v = Math.abs(mapY - pt[1]) / (1.3523 * mapR);
  let i = 0;
  while (i < 17 && robinsonLat[i + 1] < v) i++;
  const lat = (i + (v - robinsonLat[i]) / (robinsonLat[i + 1] - robinsonLat[i])) * 5;
  const lon = (pt[0] - mapX) / (0.8487 * mapR * lerpTable(robinsonLen, lat)) * 180 / Math.PI;
  return [lon, pt[1] > mapY ? -lat : lat];
}

function isle(c) {
  const r = 0.3;
  return [[c[0] - r, c[1]], [c[0], c[1] + r], [c[0] + r, c[1]], [c[0], c[1] - r]];
}

function feature(name, rings, holes) {
  return {
    type: "Feature",
    properties: { name: name },
    geometry: {
      type: "MultiPolygon",
      coordinates: rings.map((r, i) => {
        const poly = [r.concat([r[0]])];
        if (holes && i === 0) poly.push(holes.slice().reverse().concat([holes[holes.length - 1]]));
        return poly;
      })
    }
  };
}

// frame only sets the bounding box of the map
const frame = [[-180, -58], [-180, 0], [-180, 84], [180, 84], [180, 0], [180, -58]];

const features = [feature("cadre", [frame]), feature("Eurasie", [eurasia], caspian)];
darkLand.forEach(d => features.push(feature(d[0], d[1])));
features.push(feature("Petites îles", darkIsles.map(isle)));
greenLand.forEach(d => {
  if (d[0] === "États-Unis") return;
  features.push(feature(d[0], d[1]));
});
features.push(feature("États-Unis", greenLand[0][1]));
features.push(feature("Afrique du Sud", [southAfrica], lesotho));
features.push(feature("Îles vertes", greenIsles.map(isle)));

echarts.registerMap("world", { type: "FeatureCollection", features: features });

const GREEN = "#22c55e";
const glowStyle = {
  areaColor: GREEN,
  borderColor: "rgba(170,245,195,0.85)",
  borderWidth: 0.8,
  shadowColor: "rgba(34,197,94,0.85)",
  shadowBlur: 24
};
const regions = [{ name: "cadre", itemStyle: { areaColor: "rgba(0,0,0,0)", borderWidth: 0 } }];
greenLand.map(d => d[0]).concat(["Afrique du Sud", "Îles vertes"]).forEach(name => {
  regions.push({ name: name, itemStyle: glowStyle });
});

const gridLines = [];
gridLons.forEach(lon => {
  const coords = [];
  for (let lat = -58; lat <= 81; lat += 1) coords.push([lon, lat]);
  gridLines.push({ coords: coords });
});
gridLats.forEach(lat => {
  const coords = [];
  for (let lon = -180; lon <= 180; lon += 10) coords.push([lon, lat]);
  gridLines.push({ coords: coords });
});

const dotData = markets.map(m => ({
  name: m[0],
  value: [m[1], m[2]],
  itemStyle: { opacity: dimMarkets.includes(m[0]) ? 0.65 : 1 }
}));
const haloData = markets.filter(m => haloMarkets.includes(m[0])).map(m => ({ name: m[0], value: [m[1], m[2]] }));

const topLeft = robinson([-180, 84]);
const bottomRight = robinson([180, -58]);
const left = robinson([-180, 0])[0];
const right = robinson([180, 0])[0];

// canvas has no letter spacing option in zrender, so set it for the stat labels
const rawFillText = CanvasRenderingContext2D.prototype.fillText;
CanvasRenderingContext2D.prototype.fillText = function (text, x, y, w) {
  this.letterSpacing = statLabels.includes(text) ? "1.6px" : "0px";
  return rawFillText.call(this, text, x, y, w);
};

const statX = [64, 214, 364];
const titles = [
  { text: "Une porte d'entrée sur chaque marché.", left: 64, top: 51, textStyle: { color: "#ffffff", fontSize: 40, fontWeight: "bold", fontFamily: "Liberation Sans" } },
  { text: "Chacune avec sa langue, sa devise, sa livraison et ses conditions", left: 64, top: 102, textStyle: { color: "#8ea0c2", fontSize: 20, fontWeight: "bold", fontFamily: "Liberation Sans" } }
];
statValues.forEach((v, i) => {
  titles.push({ text: v, left: statX[i], top: 812, textStyle: { color: GREEN, fontSize: 46, fontWeight: "bold", fontFamily: "Liberation Sans" } });
  titles.push({ text: statLabels[i], left: statX[i], top: 861, textStyle: { color: "#8ea0c2", fontSize: 17, fontWeight: "bold", fontFamily: "Liberation Sans" } });
});

const myChart = echarts.init(document.getElementById("chart-container"), null, { renderer: "canvas" });

const option = {
  animation: false,
  backgroundColor: {
    type: "radial", x: 0.35, y: 0.35, r: 1.33,
    colorStops: [
      { offset: 0, color: "#060a16" },
      { offset: 0.6, color: "#050914" },
      { offset: 1, color: "#05060c" }
    ]
  },
  title: titles.map(t => Object.assign({ padding: 0 }, t)),
  tooltip: { show: false },
  geo: {
    map: "world",
    projection: { project: robinson, unproject: robinsonInverse },
    left: left,
    top: topLeft[1],
    width: right - left,
    height: bottomRight[1] - topLeft[1],
    roam: false,
    silent: true,
    z: 2,
    label: { show: false },
    itemStyle: { areaColor: "#1e2b4a", borderColor: "#26365a", borderWidth: 0.4 },
    emphasis: { disabled: true },
    regions: regions
  },
  series: [
    {
      name: "graticule", type: "lines", coordinateSystem: "geo", polyline: true, silent: true, z: 1,
      lineStyle: { color: "#1a2438", width: 1, opacity: 1 },
      data: gridLines
    },
    {
      name: "frontières", type: "lines", coordinateSystem: "geo", polyline: true, silent: true, z: 3,
      lineStyle: { color: "#273658", width: 0.6, opacity: 1 },
      data: borders.map(b => ({ coords: b }))
    },
    {
      name: "halos", type: "scatter", coordinateSystem: "geo", silent: true, z: 4,
      symbolSize: 17,
      itemStyle: { color: "rgba(34,197,94,0.35)" },
      data: haloData
    },
    {
      name: "marchés", type: "scatter", coordinateSystem: "geo", silent: true, z: 5,
      symbolSize: 6,
      itemStyle: { color: "#ffffff" },
      data: dotData
    }
  ]
};

myChart.setOption(option);
window.addEventListener("resize", myChart.resize);
</script>
</body>
</html>
